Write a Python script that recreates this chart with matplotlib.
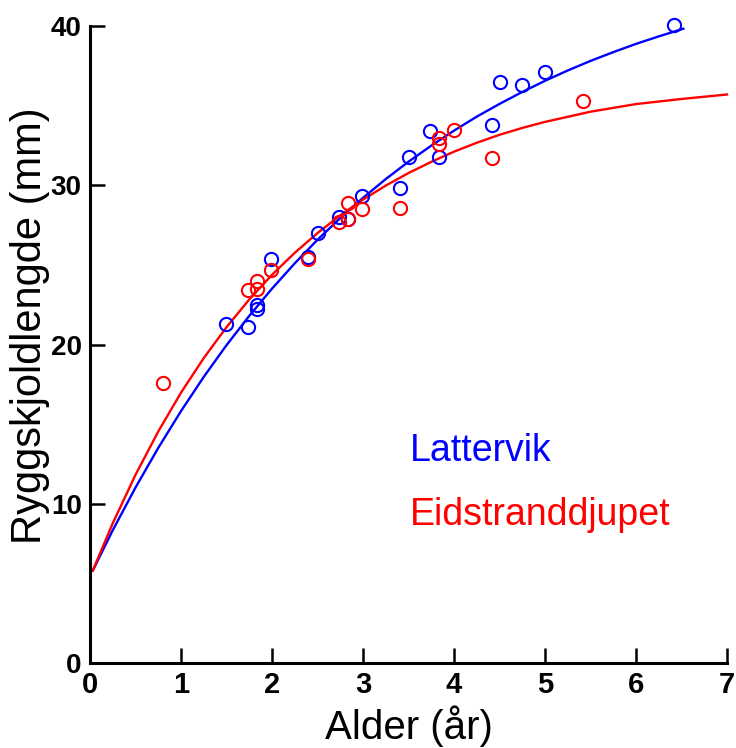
import matplotlib

matplotlib.use("Agg")

import matplotlib.pyplot as plt  # noqa: E402

# --- observed data (age in years, length in mm) ---
lattervik_age = [1.49, 1.74, 1.83, 1.83, 1.99, 2.40, 2.50, 2.74, 2.83, 2.99,
                 3.41, 3.50, 3.74, 3.83, 4.42, 4.50, 4.75, 5.00, 6.42]
lattervik_len = [21.3, 21.1, 22.5, 22.2, 25.4, 25.5, 27.0, 28.0, 27.9, 29.3,
                 29.8, 31.8, 33.4, 31.8, 33.8, 36.5, 36.3, 37.1, 40.05]

eid_age = [0.80, 1.74, 1.83, 1.83, 1.99, 2.40, 2.74, 2.83, 2.83, 2.99,
           3.41, 3.83, 3.83, 4.00, 4.42, 5.42]
eid_len = [17.6, 23.4, 24.0, 23.5, 24.7, 25.4, 27.7, 28.9, 27.9, 28.5,
           28.6, 33.0, 32.6, 33.5, 31.7, 35.3]

# --- fitted growth curves ---
lattervik_fit_age = [0.03, 0.25, 0.5, 0.75, 1.0, 1.25, 1.5, 1.75, 2.0, 2.25,
                     2.5, 2.75, 3.0, 3.25, 3.5, 3.75, 4.0, 4.25, 4.5, 4.75,
                     5.0, 5.25, 5.5, 5.75, 6.0, 6.25, 6.52]
lattervik_fit_len = [5.8, 8.34, 11.02, 13.51, 15.82, 17.97, 19.96, 21.80,
                     23.51, 25.10, 26.58, 27.94, 29.21, 30.39, 31.48, 32.49,
                     33.43, 34.31, 35.11, 35.86, 36.56, 37.21, 37.81, 38.36,
                     38.88, 39.35, 39.83]

eid_fit_age = [0.03, 0.25, 0.5, 0.75, 1.0, 1.25, 1.5, 1.75, 2.0, 2.25, 2.5,
               2.75, 3.0, 3.25, 3.5, 3.75, 4.0, 4.25, 4.5, 4.75, 5.0, 5.5,
               6.0, 6.5, 7.0]
eid_fit_len = [5.8, 8.78, 11.82, 14.54, 16.98, 19.15, 21.09, 22.83, 24.38,
               25.76, 27.00, 28.11, 29.10, 29.98, 30.77, 31.47, 32.11, 32.67,
               33.17, 33.60, 33.98, 34.62, 35.10, 35.42, 35.70]

x_ticks = [0, 1, 2, 3, 4, 5, 6, 7]
y_ticks = [0, 10, 20, 30, 40]

BLUE = "#0000FF"
RED = "#FF0000"

fig = plt.figure(figsize=(7.36, 7.48), dpi=100)
ax = fig.add_axes([0.1223, 0.1136, 0.8655, 0.8516])

ax.plot(lattervik_fit_age, lattervik_fit_len, color=BLUE, lw=1.7, zorder=2,
        clip_on=False)
ax.plot(eid_fit_age, eid_fit_len, color=RED, lw=1.7, zorder=2,
        clip_on=False)

ax.plot(lattervik_age, lattervik_len, "o", ms=9.5, mfc="none", mec=BLUE,
        mew=1.5, zorder=3, clip_on=False)
ax.plot(eid_age, eid_len, "o", ms=9.5, mfc="none", mec=RED,
        mew=1.5, zorder=4, clip_on=False)

ax.text(3.52, 13.3, "Lattervik", color=BLUE, fontsize=27,
        family="Liberation Sans", va="center", ha="left")
ax.text(3.52, 9.3, "Eidstranddjupet", color=RED, fontsize=27,
        family="Liberation Sans", va="center", ha="left")

ax.set_xlim(0, 7)
ax.set_ylim(0, 40)
ax.set_xticks(x_ticks)
ax.set_yticks(y_ticks)
ax.set_xticklabels([str(t) for t in x_ticks],
                   family=["Liberation Sans Narrow", "Liberation Sans"],
                   fontsize=21, fontweight="bold")
ax.set_yticklabels([str(t) for t in y_ticks], family="Liberation Sans",
                   fontsize=20, fontweight="bold")

for side in ("top", "right"):
    ax.spines[side].set_visible(False)
for side in ("left", "bottom"):
    ax.spines[side].set_linewidth(2.2)
ax.tick_params(direction="in", length=11, width=1.8, pad=6)

ax.set_xlabel("Alder (år)", family="Liberation Sans", fontsize=29,
              labelpad=4)
ax.set_ylabel("Ryggskjoldlengde (mm)", family="Liberation Sans", fontsize=30)
ax.yaxis.set_label_coords(-0.063, 0.529)

fig.savefig("out.png", dpi=100)
